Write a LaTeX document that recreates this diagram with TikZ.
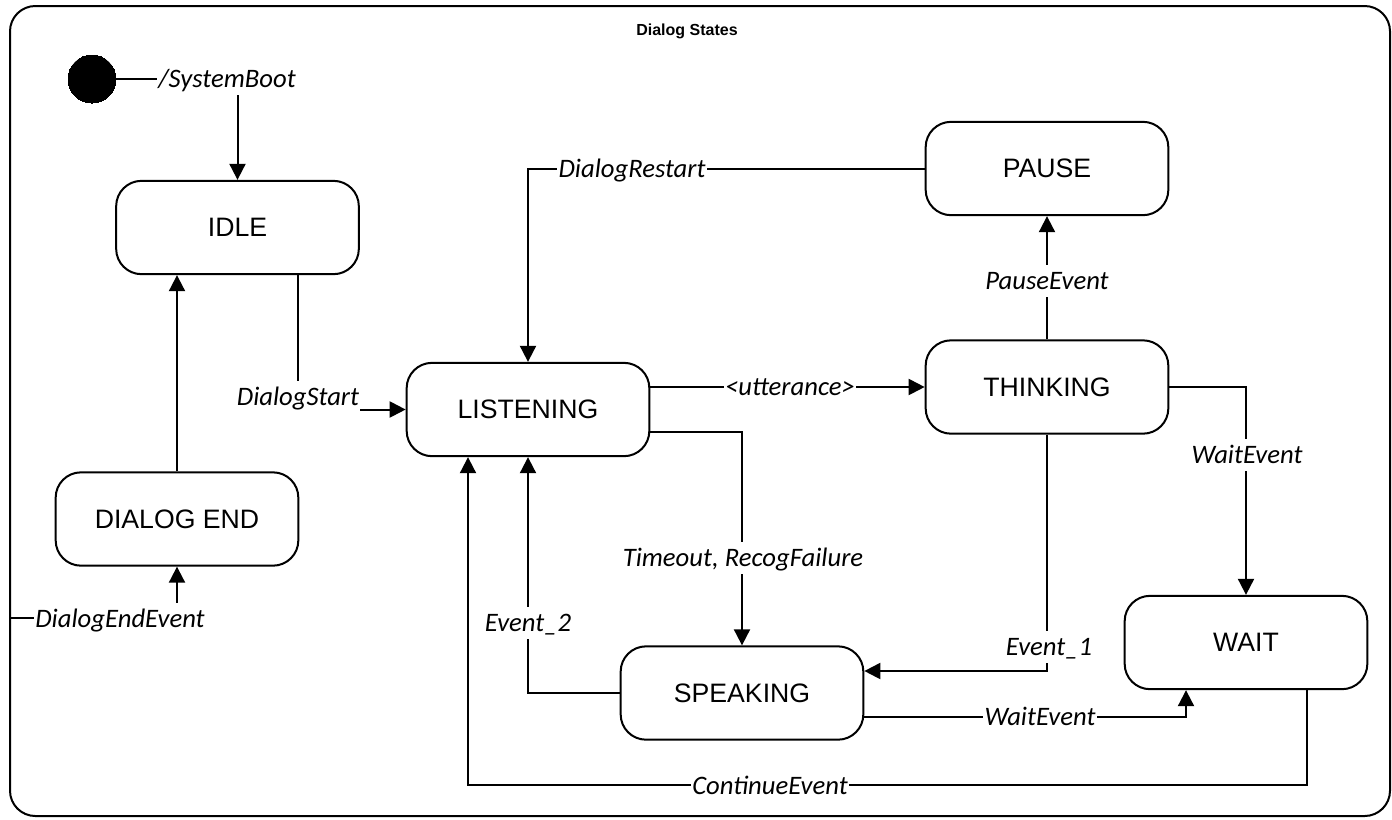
\documentclass[tikz,border=0pt]{standalone}
\usepackage{fontspec}
\setmainfont{Liberation Sans}
\newfontfamily\lblfont{Carlito}
\usetikzlibrary{arrows.meta}
\begin{document}
\begin{tikzpicture}[x=0.75pt,y=-0.75pt,
  line width=1.5pt,
  state/.style={draw, rounded corners=19pt, minimum width=182pt, minimum height=70pt,
    font=\fontsize{20}{24}\selectfont, inner sep=0pt},
  lbl/.style={fill=white, font=\lblfont\itshape\fontsize{20}{24}\selectfont,
    inner xsep=1pt, inner ysep=0pt, text height=18pt, text depth=6pt},
  arr/.style={-{Triangle[length=12pt,width=12pt]}}]
\useasboundingbox (0,0) rectangle (1392,819);
% frame
\node[draw, rounded corners=19pt, minimum width=1035pt, minimum height=607.5pt, inner sep=0pt] (frame) at (700,411) {};
\node[font=\bfseries\fontsize{12}{14}\selectfont] (title) at (687,31) {Dialog States};
% states
\node[circle, fill=black, draw, minimum size=36pt, inner sep=0pt, line width=0pt] (init) at (92,79) {};
\node[state] (IDLE) at (237.5,227.5) {IDLE};
\node[state] (DEND) at (177,519) {DIALOG END};
\node[state] (LISTENING) at (528,409.5) {LISTENING};
\node[state] (PAUSE) at (1047,168.5) {PAUSE};
\node[state] (THINKING) at (1047,387) {THINKING};
\node[state] (SPEAKING) at (742,693) {SPEAKING};
\node[state] (WAIT) at (1246,642.5) {WAIT};
% helper coordinates
\coordinate (x298) at (298,0);
\coordinate (y432) at (0,432);
\coordinate (y671) at (0,671);
\coordinate (y717) at (0,717);
\coordinate (x1186) at (1186,0);
\coordinate (x1307) at (1307,0);
\coordinate (x468) at (468,0);
\coordinate (y785) at (0,785);
\coordinate (y618) at (0,618);
% connectors
\draw[arr] (init.east) -| (IDLE.north);
\draw[arr] (IDLE.south -| x298) |- (LISTENING.west);
\draw[arr] (DEND.north) -- (DEND.north |- IDLE.south);
\draw[arr] (frame.west |- y618) -| (DEND.south);
\draw[arr] (PAUSE.west) -| (LISTENING.north);
\draw[arr] (LISTENING.east |- THINKING.west) -- (THINKING.west);
\draw[arr] (LISTENING.east |- y432) -| (SPEAKING.north);
\draw[arr] (THINKING.north) -- (PAUSE.south);
\draw[arr] (THINKING.east) -| (WAIT.north);
\draw[arr] (THINKING.south) |- (SPEAKING.east |- y671);
\draw[arr] (SPEAKING.west) -| (LISTENING.south);
\draw[arr] (SPEAKING.east |- y717) -| (WAIT.south -| x1186);
\draw[arr] (WAIT.south -| x1307) |- (x468 |- y785) -- (LISTENING.south -| x468);
% labels
\node[lbl] (lSB) at (227,79) {/SystemBoot};
\node[lbl] (lDS) at (298,397) {DialogStart};
\node[lbl] (lDEE) at (120,619) {DialogEndEvent};
\node[lbl] (lDR) at (632,169) {DialogRestart};
\node[lbl] (lUT) at (790,387) {\textless utterance\textgreater};
\node[lbl] (lTO) at (743,558) {Timeout, RecogFailure};
\node[lbl] (lPE) at (1047,281) {PauseEvent};
\node[lbl] (lWE1) at (1247,455) {WaitEvent};
\node[lbl] (lE1) at (1049,647) {Event\_1};
\node[lbl] (lE2) at (528,623) {Event\_2};
\node[lbl] (lWE2) at (1040,717) {WaitEvent};
\node[lbl] (lCE) at (770,786) {ContinueEvent};
\end{tikzpicture}
\end{document}
